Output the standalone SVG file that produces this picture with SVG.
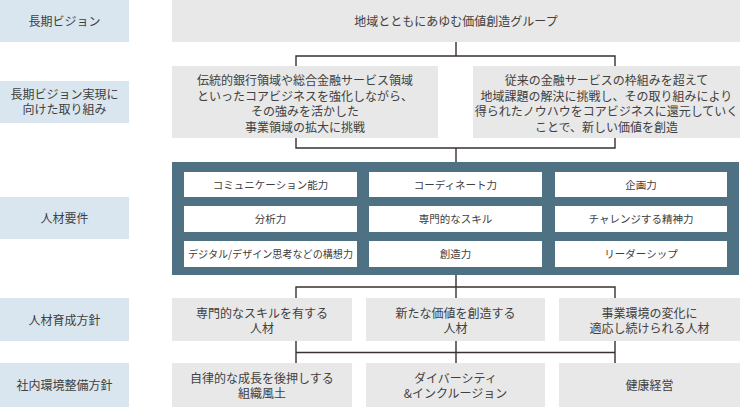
<svg xmlns="http://www.w3.org/2000/svg" width="740" height="407" viewBox="0 0 740 407">
<style>
text{font-family:"Noto Sans CJK JP","Noto Sans",sans-serif;font-size:12px;fill:#404040;text-anchor:middle}
.lab{fill:#dae6ef}
.box{fill:#e8e8e8}
.cell{fill:#ffffff}
.sm{font-size:10.5px}
.ln{stroke:#3a3030;stroke-width:1.4;fill:none}
</style>
<rect width="740" height="407" fill="#ffffff"/>
<g id="labels">
<g id="label-vision"><rect class="lab" x="0" y="0" width="129" height="42"/><text x="64.5" y="25.5">長期ビジョン</text></g>
<g id="label-initiatives"><rect class="lab" x="0" y="81" width="129" height="42"/><text x="64.5" y="99">長期ビジョン実現に</text><text x="64.5" y="114">向けた取り組み</text></g>
<g id="label-requirements"><rect class="lab" x="0" y="197" width="129" height="42"/><text x="64.5" y="222.5">人材要件</text></g>
<g id="label-development"><rect class="lab" x="0" y="298" width="129" height="43"/><text x="64.5" y="324.5">人材育成方針</text></g>
<g id="label-environment"><rect class="lab" x="0" y="363" width="129" height="44"/><text x="64.5" y="389.5">社内環境整備方針</text></g>
</g>
<g id="connectors">
<path class="ln" d="M456 42V56M296 66V56H615V66"/>
<path class="ln" d="M296 138V148H615V138M456 148V162"/>
<path class="ln" d="M456 275V298M296 298V287H615V298"/>
<path class="ln" d="M296 341V363M456 341V363M615 341V363M296 352.5H615"/>
</g>
<g id="vision"><rect class="box" x="172" y="0" width="568" height="42"/><text x="456" y="25.5">地域とともにあゆむ価値創造グループ</text></g>
<g id="initiative-1"><rect class="box" x="172" y="66" width="266" height="72"/>
<text x="305" y="85">伝統的銀行領域や総合金融サービス領域</text>
<text x="305" y="100.5">といったコアビジネスを強化しながら、</text>
<text x="305" y="116">その強みを活かした</text>
<text x="305" y="131.5">事業領域の拡大に挑戦</text></g>
<g id="initiative-2"><rect class="box" x="473" y="66" width="267" height="72"/>
<text x="606.5" y="85">従来の金融サービスの枠組みを超えて</text>
<text x="606.5" y="100.5">地域課題の解決に挑戦し、その取り組みにより</text>
<text x="606.5" y="116">得られたノウハウをコアビジネスに還元していく</text>
<text x="606.5" y="131.5">ことで、新しい価値を創造</text></g>
<g id="requirements">
<rect x="172" y="162" width="567" height="113" fill="#4e7283"/>
<g id="req-1"><rect class="cell" x="184" y="172" width="173" height="25"/><text class="sm" x="270.5" y="188.5">コミュニケーション能力</text></g>
<g id="req-2"><rect class="cell" x="369" y="172" width="173" height="25"/><text class="sm" x="455.5" y="188.5">コーディネート力</text></g>
<g id="req-3"><rect class="cell" x="555" y="172" width="172" height="25"/><text class="sm" x="641" y="188.5">企画力</text></g>
<g id="req-4"><rect class="cell" x="184" y="206" width="173" height="26"/><text class="sm" x="270.5" y="222.5">分析力</text></g>
<g id="req-5"><rect class="cell" x="369" y="206" width="173" height="26"/><text class="sm" x="455.5" y="222.5">専門的なスキル</text></g>
<g id="req-6"><rect class="cell" x="555" y="206" width="172" height="26"/><text class="sm" x="641" y="222.5">チャレンジする精神力</text></g>
<g id="req-7"><rect class="cell" x="184" y="241" width="173" height="26"/><text class="sm" x="270.5" y="257.5" textLength="165" lengthAdjust="spacingAndGlyphs">デジタル/デザイン思考などの構想力</text></g>
<g id="req-8"><rect class="cell" x="369" y="241" width="173" height="26"/><text class="sm" x="455.5" y="257.5">創造力</text></g>
<g id="req-9"><rect class="cell" x="555" y="241" width="172" height="26"/><text class="sm" x="641" y="257.5">リーダーシップ</text></g>
</g>
<g id="dev-1"><rect class="box" x="172" y="298" width="180" height="43"/><text x="262" y="317.5">専門的なスキルを有する</text><text x="262" y="332.5">人材</text></g>
<g id="dev-2"><rect class="box" x="366" y="298" width="179" height="43"/><text x="455.5" y="317.5">新たな価値を創造する</text><text x="455.5" y="332.5">人材</text></g>
<g id="dev-3"><rect class="box" x="559" y="298" width="181" height="43"/><text x="649.5" y="317.5">事業環境の変化に</text><text x="649.5" y="332.5">適応し続けられる人材</text></g>
<g id="env-1"><rect class="box" x="172" y="363" width="180" height="44"/><text x="262" y="382.5">自律的な成長を後押しする</text><text x="262" y="397.5">組織風土</text></g>
<g id="env-2"><rect class="box" x="366" y="363" width="179" height="44"/><text x="455.5" y="382.5">ダイバーシティ</text><text x="455.5" y="397.5">&amp;インクルージョン</text></g>
<g id="env-3"><rect class="box" x="559" y="363" width="181" height="44"/><text x="649.5" y="389.5">健康経営</text></g>
</svg>
